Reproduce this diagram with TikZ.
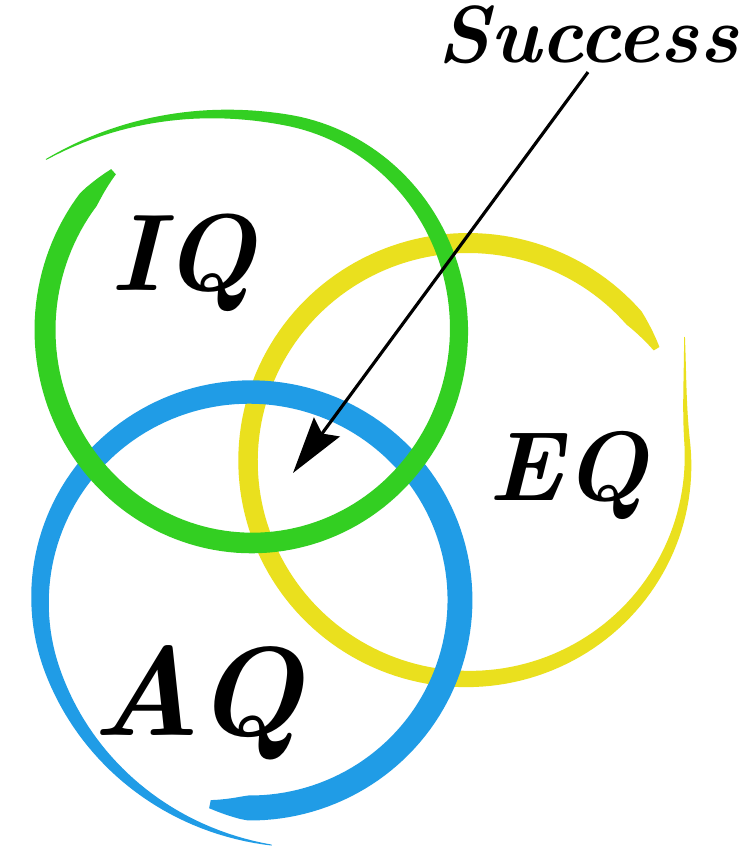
\documentclass[tikz,border=0pt]{standalone}
\usetikzlibrary{arrows.meta,positioning}
\definecolor{ringgreen}{HTML}{33CF22}
\definecolor{ringyellow}{HTML}{EAE01E}
\definecolor{ringblue}{HTML}{209CE6}

% brush ring: colour, centre, rx, ry, start, end, curl start, curl growth, width
\newcommand{\brushring}[9]{%
  \fill[#1, shift={#2}]
    plot[domain=#5:#6, samples=180] ({(#3+bcurl(\x,#7,#6,#8)+bwidth(\x,#5,#6,#9)/2)*cos(\x)}, {(#4+bcurl(\x,#7,#6,#8)+bwidth(\x,#5,#6,#9)/2)*sin(\x)})
    -- plot[domain=#6:#5, samples=180] ({(#3+bcurl(\x,#7,#6,#8)-bwidth(\x,#5,#6,#9)/2)*cos(\x)}, {(#4+bcurl(\x,#7,#6,#8)-bwidth(\x,#5,#6,#9)/2)*sin(\x)})
    -- cycle;}

\begin{document}
\begin{tikzpicture}[
  declare function={
    bcurl(\t,\s,\u,\g)=\g*((max(\t,\s)-\s)/(\u-\s))^2;
    bwidth(\t,\s,\u,\w)=\w*(1-((\t-\s)/(\u-\s))^4)*min(1,0.3+0.07*(\t-\s))+0.01;
  },
  letters/.style={anchor=base, inner sep=0pt, text=black},
  pointer/.style={-{Stealth[length=5.7mm, width=3.2mm, inset=0.8mm]}, line width=0.9pt}
]
\fill[white] (0,0) rectangle (7.4,-8.49);
\useasboundingbox (0,0) rectangle (7.4,-8.49);

% the three rings
\brushring{ringyellow}{(4.68,-4.61)}{2.20}{2.18}{31}{390}{365}{0.30}{0.19}
\brushring{ringblue}{(2.50,-6.00)}{2.10}{2.08}{259}{635}{560}{0.38}{0.24}
\brushring{ringgreen}{(2.52,-3.30)}{2.07}{2.13}{132}{501}{440}{0.58}{0.20}

% labels
\node[letters, font={\bfseries\itshape\fontsize{31}{36}\selectfont}] (iq) at (1.83,-2.90) {IQ};
\node[letters, font={\bfseries\itshape\fontsize{28}{34}\selectfont}] (eq) at (5.68,-5.00) {EQ};
\node[letters, font={\bfseries\itshape\fontsize{36}{42}\selectfont}] (aq) at (1.97,-7.35) {AQ};
\node[letters, inner sep=2pt, font={\bfseries\itshape\fontsize{23}{28}\selectfont}] (success) at (5.88,-0.63) {Success};

\coordinate (core) at (2.93,-4.73);
\draw[pointer] (success.south) -- (core);
\end{tikzpicture}
\end{document}
